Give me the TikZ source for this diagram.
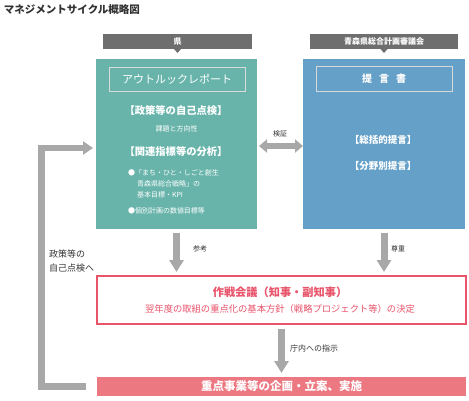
\documentclass[tikz,border=0pt]{standalone}
\usepackage{fontspec}
\setmainfont{Noto Sans CJK JP}
\usetikzlibrary{arrows.meta}
\definecolor{tealbg}{HTML}{68B4AA}
\definecolor{bluebg}{HTML}{64A0C8}
\definecolor{hdrgray}{HTML}{6E6E6E}
\definecolor{arrgray}{HTML}{A8A8A8}
\definecolor{pinkline}{HTML}{E9546B}
\definecolor{pinkfill}{HTML}{EC7882}
\definecolor{txtdark}{HTML}{333333}
\newcommand\fsz[1]{\fontsize{#1}{#1}\selectfont}
\tikzset{
  panel/.style={inner sep=0pt, outer sep=0pt},
  hdrbar/.style={fill=hdrgray, inner sep=0pt, outer sep=0pt, minimum height=15pt, text=white, font=\fsz{8}\bfseries},
  innerbox/.style={draw=white!85!black, line width=0.9pt, inner sep=0pt, minimum height=24pt, text=white},
  txt/.style={inner sep=0pt, outer sep=0pt},
  blockarrow/.style={draw=arrgray, line width=7pt, -{Triangle[width=14pt,length=12pt]}},
  dblarrow/.style={draw=arrgray, line width=6pt, {Triangle[width=13pt,length=8pt]}-{Triangle[width=13pt,length=8pt]}},
  fbarrow/.style={draw=arrgray, line width=6.5pt, miter limit=10, -{Triangle[width=13pt,length=10pt]}},
}
\begin{document}
\begin{tikzpicture}[x=1pt,y=-1pt]
\useasboundingbox (0,0) rectangle (469,400);
% title
\node[txt, anchor=west, text=txtdark, font=\fsz{10.5}\bfseries] (title) at (4,10) {マネジメントサイクル概略図};
% header bars
\node[hdrbar, minimum width=149pt] (hdrA) at (177.5,41.5) {県};
\node[hdrbar, minimum width=148pt] (hdrB) at (384,41.5) {青森県総合計画審議会};
\fill[hdrgray] ([xshift=-3.5pt]hdrA.south) -- ([xshift=3.5pt]hdrA.south) -- ([yshift=-4pt]hdrA.south) -- cycle;
\fill[hdrgray] ([xshift=-3.5pt]hdrB.south) -- ([xshift=3.5pt]hdrB.south) -- ([yshift=-4pt]hdrB.south) -- cycle;
% panels
\node[panel, fill=tealbg, minimum width=161pt, minimum height=170pt] (teal) at (176.5,144) {};
\node[panel, fill=bluebg, minimum width=162pt, minimum height=170pt] (blue) at (384,144) {};
% teal content
\node[innerbox, minimum width=136pt, font=\fsz{11}] (outlook) at (177,79) {アウトルックレポート};
\node[txt, text=white, font=\fsz{10.3}\bfseries] (t1) at (176,111) {【政策等の自己点検】};
\node[txt, text=white, font=\fsz{7}] (t2) at (176.5,129) {課題と方向性};
\node[txt, text=white, font=\fsz{10.3}\bfseries] (t3) at (176,152) {【関連指標等の分析】};
\node[txt, text=white, font=\fsz{7}, anchor=west] (t4) at (128,173) {●「まち・ひと・しごと創生};
\node[txt, text=white, font=\fsz{7}, anchor=west] (t5) at (137,184) {青森県総合戦略」の};
\node[txt, text=white, font=\fsz{7}, anchor=west] (t6) at (137,195) {基本目標・KPI};
\node[txt, text=white, font=\fsz{7}, anchor=west] (t7) at (128,211) {●個別計画の数値目標等};
% blue content
\node[innerbox, minimum width=136pt, minimum height=25pt, font=\fsz{10}\bfseries] (teigen) at (384,78.5) {提\hspace{7pt}言\hspace{7pt}書};
\node[txt, text=white, font=\fsz{9.5}\bfseries] (b1) at (383,140) {【総括的提言】};
\node[txt, text=white, font=\fsz{9.5}\bfseries] (b2) at (383,166) {【分野別提言】};
% pink box
\node[panel, draw=pinkline, line width=1.2pt, fill=white, minimum width=369pt, minimum height=48pt] (pink) at (281.5,300) {};
\node[txt, text=pinkline, font=\fsz{11.2}\bfseries] (p1) at (280,292) {作戦会議（知事・副知事）};
\node[txt, text=pinkline, font=\fsz{9.3}] (p2) at (280,309) {翌年度の取組の重点化の基本方針（戦略プロジェクト等）の決定};
% bottom box
\node[panel, fill=pinkfill, minimum width=369pt, minimum height=19pt, text=white, font=\fsz{11.5}\bfseries] (bot) at (281.5,386.5) {重点事業等の企画・立案、実施};
% arrows
\draw[blockarrow] ([yshift=-4pt]teal.south) -- ([yshift=4pt]teal.south |- pink.north);
\draw[blockarrow] ([yshift=-4pt]blue.south) -- ([yshift=4pt]blue.south |- pink.north);
\draw[blockarrow] ([yshift=-5pt]pink.south) -- ([yshift=4pt]pink.south |- bot.north);
\node[txt, anchor=west, text=txtdark, font=\fsz{7}] (l1) at (193,249) {参考};
\node[txt, anchor=west, text=txtdark, font=\fsz{7}] (l2) at (391,249) {尊重};
\node[txt, anchor=west, text=txtdark, font=\fsz{8}] (l3) at (290,348) {庁内への指示};
% verification double arrow
\draw[dblarrow] ([xshift=2pt,yshift=-2pt]teal.east) -- ([yshift=-2pt]blue.west);
\node[txt, text=txtdark, font=\fsz{7}] (l4) at (280,134) {検証};
% feedback arrow
\coordinate (fbc) at (41.5,148);
\draw[fbarrow] ([xshift=-11pt]bot.west) -| (fbc) -- ([xshift=-3pt]teal.west |- fbc);
\node[txt, anchor=west, text=txtdark, font=\fsz{9}] (l5) at (49,254) {政策等の};
\node[txt, anchor=west, text=txtdark, font=\fsz{9}] (l6) at (49,268) {自己点検へ};
\end{tikzpicture}
\end{document}
